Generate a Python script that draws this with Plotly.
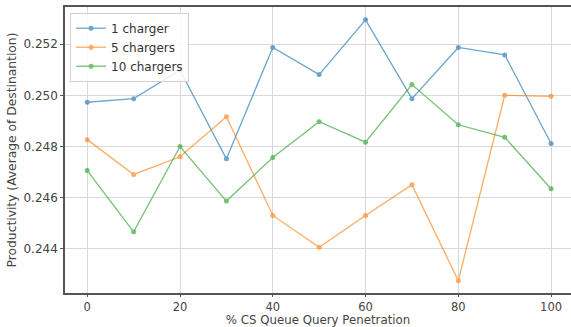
import plotly.graph_objects as go

x = [0, 10, 20, 30, 40, 50, 60, 70, 80, 90, 100]
one_charger = [0.24973, 0.24987, 0.25098, 0.24752, 0.25187, 0.25081, 0.25295, 0.24987, 0.25187, 0.25158, 0.24812]
five_chargers = [0.24827, 0.24691, 0.24760, 0.24916, 0.24531, 0.24407, 0.24531, 0.24651, 0.24276, 0.25000, 0.24996]
ten_chargers = [0.24706, 0.24467, 0.24800, 0.24587, 0.24757, 0.24897, 0.24817, 0.25042, 0.24885, 0.24836, 0.24635]
names = ["1 charger", "5 chargers", "10 chargers"]
colors = ["#1f77b4", "#ff7f0e", "#2ca02c"]
y_ticks = [0.244, 0.246, 0.248, 0.250, 0.252]
x_ticks = [0, 20, 40, 60, 80, 100]

fig = go.Figure()
for name, ys, c in zip(names, [one_charger, five_chargers, ten_chargers], colors):
    fig.add_trace(go.Scatter(x=x, y=ys, name=name, mode="lines+markers",
                             line=dict(color=c, width=1.3), marker=dict(color=c, size=5),
                             opacity=0.65))

tick_font = dict(family="DejaVu Sans", size=12, color="#444")
xtick_font = dict(family="DejaVu Sans", size=11.5, color="#444")
title_font = dict(family="DejaVu Sans", size=12.3, color="#444")
xtitle_font = dict(family="DejaVu Sans", size=11.8, color="#444")
fig.update_layout(
    width=571, height=327,
    margin=dict(l=65, r=0, t=7, b=34),
    paper_bgcolor="white", plot_bgcolor="white",
    showlegend=True,
    legend=dict(x=0.01, y=0.98, xanchor="left", yanchor="top",
                bgcolor="rgba(255,255,255,0.85)", bordercolor="#d0d0d0", borderwidth=1,
                font=dict(family="DejaVu Sans", size=12, color="#333"),
                tracegroupgap=0, itemwidth=30),
    xaxis=dict(range=[-4.8, 104.3], tickvals=x_ticks, showgrid=True, gridcolor="#d9d9d9",
               gridwidth=1, zeroline=False, showline=True, linecolor="#555", linewidth=1.5,
               mirror=True, ticks="outside", ticklen=2, tickcolor="#555",
               tickfont=xtick_font,
               title=dict(text="% CS Queue Query Penetration", font=xtitle_font, standoff=3)),
    yaxis=dict(range=[0.24228, 0.25345], tickvals=y_ticks, tickformat=".3f", showgrid=True,
               gridcolor="#d9d9d9", gridwidth=1, zeroline=False, showline=True,
               linecolor="#555", linewidth=1.5, ticks="outside", ticklen=3, tickcolor="#555",
               tickfont=tick_font,
               title=dict(text="Productivity (Average of Destinantion)", font=title_font, standoff=4)),
)
fig.write_html("out.html")
